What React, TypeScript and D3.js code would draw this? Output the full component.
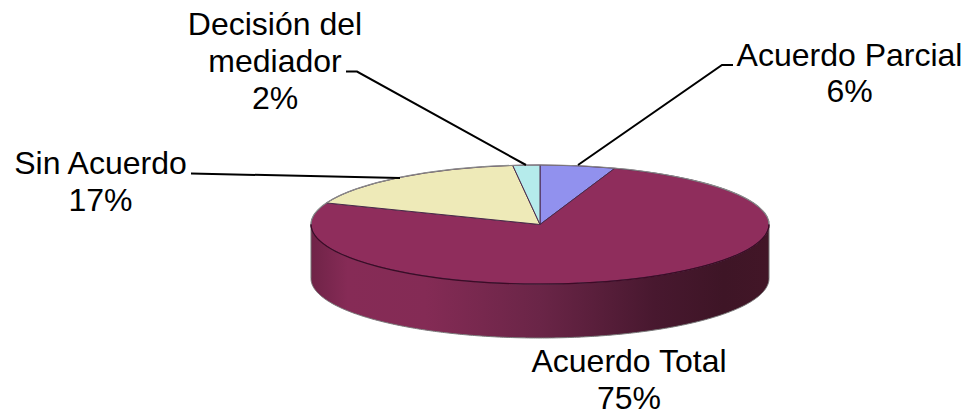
import React from 'react';
import * as d3 from 'd3';

// Values as printed on the labels
const categories = ['Acuerdo Parcial', 'Acuerdo Total', 'Sin Acuerdo', 'Decisión del mediador'];
const percentLabels = ['6%', '75%', '17%', '2%'];
// Slice shares as measured on the drawing (the 3D tilt makes them differ a bit from the labels)
const sliceShares = [5.3, 75.6, 17.2, 1.9];
const sliceColors = ['#9191ee', '#8f2d5c', '#eeeab8', '#b5ebeb'];
// Shade of the pie's side, left to right
const sideOffsets = [0, 0.08, 0.25, 0.5, 0.75, 0.9, 1];
const sideColors = ['#6f2347', '#862b56', '#842b55', '#6a2547', '#48182f', '#3e1526', '#421627'];

const width = 971;
const height = 415;
const cx = 540;
const cy = 224.5;
const rx = 229;
const ry = 59.5;
const depth = 54;

const pie = d3.pie<number>().sort(null).value(d => d);
const arcs = pie(sliceShares);
const arc = d3.arc<d3.PieArcDatum<number>>().innerRadius(0).outerRadius(rx);

// Back and front edges of the top face
const rim = d3.arc<{ startAngle: number; endAngle: number }>().innerRadius(rx).outerRadius(rx);
const backRim = rim({ startAngle: -Math.PI / 2, endAngle: Math.PI / 2 });
const frontRim = rim({ startAngle: Math.PI / 2, endAngle: (3 * Math.PI) / 2 });

// Lower half of the rim, used for the side wall
const sideArea = d3.area<number>()
  .x(a => cx + rx * Math.sin(a))
  .y0(a => cy - ry * Math.cos(a))
  .y1(a => cy + depth - ry * Math.cos(a));
const sidePath = sideArea(d3.range(Math.PI / 2, (3 * Math.PI) / 2 + 0.01, 0.01));

const font = '"Liberation Sans", Arial, sans-serif';
const fontSize = 32;

export default function App() {
  return (
    <svg
      width={width}
      height={height}
      viewBox={`0 0 ${width} ${height}`}
      style={{ position: 'absolute', left: 0, top: 0, background: '#fff' }}
    >
      <defs>
        <linearGradient id="side" x1={cx - rx} x2={cx + rx} y1={0} y2={0} gradientUnits="userSpaceOnUse">
          {sideOffsets.map((o, i) => (
            <stop key={o} offset={o} stopColor={sideColors[i]} />
          ))}
        </linearGradient>
      </defs>

      {/* side wall */}
      <path d={sidePath as string} fill="url(#side)" stroke="#777" strokeWidth={1} />

      {/* top face */}
      <g transform={`translate(${cx},${cy}) scale(1,${ry / rx})`}>
        {arcs.map((d, i) => (
          <path
            key={categories[i]}
            d={arc(d) as string}
            fill={sliceColors[i]}
            stroke="#4a2a4a"
            strokeWidth={1}
            vectorEffect="non-scaling-stroke"
          />
        ))}
        <path d={backRim as string} fill="none" stroke="#8a8a8a" strokeWidth={1.2} vectorEffect="non-scaling-stroke" />
        <path d={frontRim as string} fill="none" stroke="#3d0a26" strokeWidth={1.2} vectorEffect="non-scaling-stroke" />
      </g>

      {/* leader lines */}
      <g fill="none" stroke="#000" strokeWidth={2}>
        <polyline points="578,165 722,65 733,65" />
        <polyline points="526,165 357,71.5 346,71.5" />
        <polyline points="400,178 191,173.5" />
      </g>

      {/* labels */}
      <g fontFamily={font} fontSize={fontSize} fill="#000" textAnchor="middle">
        <text x={849.5} y={66}>{categories[0]}</text>
        <text x={849.5} y={102}>{percentLabels[0]}</text>
        <text x={629} y={372}>{categories[1]}</text>
        <text x={629} y={409}>{percentLabels[1]}</text>
        <text x={100.5} y={174}>{categories[2]}</text>
        <text x={100.5} y={211}>{percentLabels[2]}</text>
        <text x={275} y={35}>Decisión del</text>
        <text x={275} y={72}>mediador</text>
        <text x={275} y={109}>{percentLabels[3]}</text>
      </g>
    </svg>
  );
}
